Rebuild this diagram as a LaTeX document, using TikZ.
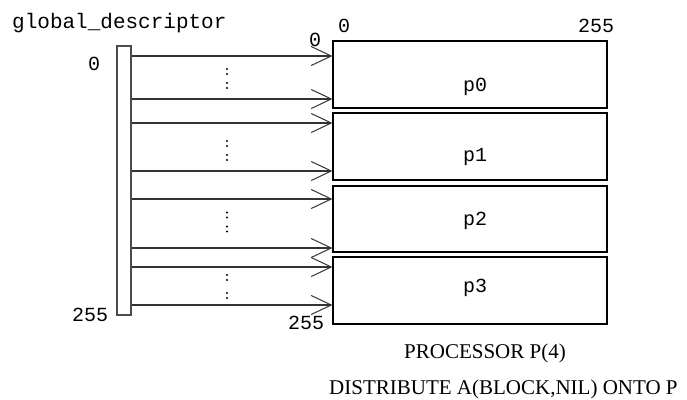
\documentclass[tikz,border=0pt]{standalone}
\usepackage{fontspec}
\setmainfont{Liberation Serif}
\setmonofont{Liberation Mono}
\usetikzlibrary{arrows.meta}

\begin{document}
\begin{tikzpicture}[x=1pt, y=-1pt,
    every node/.style={inner sep=0pt},
    lbl/.style={font=\fontsize{20}{24}\selectfont\ttfamily, anchor=base west},
    captext/.style={font=\fontsize{21}{25}\selectfont, anchor=base west},
    bar/.style={rectangle, draw=black!70, line width=1.2pt, minimum width=14pt, minimum height=269pt},
    proc/.style={rectangle, draw, line width=1.2pt, minimum width=274pt},
    ptr/.style={draw=black!80, line width=1.1pt, -{Straight Barb[length=20pt, width=19pt, line width=1pt]}},
]
\useasboundingbox (0,0) rectangle (687,399);

% Descriptor column
\node[lbl, font=\fontsize{21}{25}\selectfont\ttfamily] (gname) at (12,28) {global\_descriptor};
\node[bar] (desc) at (124,180.5) {};
\node[lbl] (dtop) at (88,70) {0};
\node[lbl] (dbot) at (72,321) {255};

% Processor blocks
\node[proc, minimum height=67pt] (p0) at (470,74.5) {};
\node[proc, minimum height=67pt] (p1) at (470,146.5) {};
\node[proc, minimum height=66pt] (p2) at (470,219) {};
\node[proc, minimum height=67pt] (p3) at (470,290.5) {};
\node[lbl] (p0lab) at (463,91) {p0};
\node[lbl] (p1lab) at (463,161.5) {p1};
\node[lbl] (p2lab) at (463,225.5) {p2};
\node[lbl] (p3lab) at (463,292.5) {p3};

% Index labels
\node[lbl] (ctop) at (338,32) {0};
\node[lbl] (cend) at (578,32) {255};
\node[lbl] (rtop) at (309,46) {0};
\node[lbl] (rbot) at (288,329) {255};

% Pointers from descriptor to blocks
\foreach \y/\b in {56/p0, 99/p0, 123/p1, 171/p1, 199/p2, 248/p2, 267/p3, 305/p3}
  \draw[ptr] (desc.east |- 0,\y) -- (\b.west |- 0,\y);

% Elided rows
\foreach \y in {71.5, 85.5, 143.5, 157.5, 215, 229, 277.5, 295.5} {
  \fill (227,\y-2.5) circle (1.2);
  \fill (227,\y+2.5) circle (1.2);
}

% Captions
\node[captext] (procs) at (404,358) {PROCESSOR P(4)};
\node[captext] (dist) at (329,394) {DISTRIBUTE A(BLOCK,NIL) ONTO P};
\end{tikzpicture}
\end{document}
